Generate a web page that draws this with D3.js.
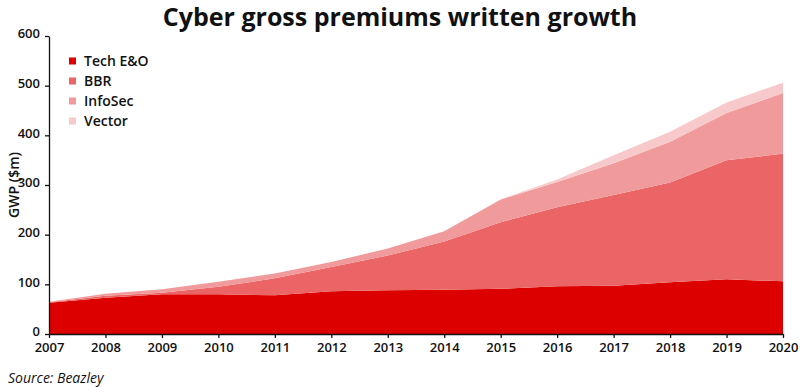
<!DOCTYPE html>
<html>
<head>
<meta charset="utf-8">
<script src="https://cdn.jsdelivr.net/npm/d3@7"></script>
<style>
  body { margin: 0; background: #fff; }
  text { font-family: "Open Sans", sans-serif; fill: #111; }
</style>
</head>
<body>
<svg id="chart" width="800" height="387"></svg>
<script>
// data ($m, per line of business)
const years = [2007, 2008, 2009, 2010, 2011, 2012, 2013, 2014, 2015, 2016, 2017, 2018, 2019, 2020];
const techEO = [63, 73, 80, 80, 78, 86, 88, 89, 91, 96, 97, 104, 110, 106];
const bbr = [1, 4, 3, 15, 34, 49, 70, 97, 134, 159, 183, 201, 240, 257];
const infoSec = [1, 4, 7, 10, 10, 10, 14, 21, 46, 51, 64, 82, 95, 122];
const vector = [0, 0, 0, 0, 0, 0, 0, 0, 0, 5, 16, 20, 21, 21];
const seriesNames = ["Tech E&O", "BBR", "InfoSec", "Vector"];
const yTicks = [0, 100, 200, 300, 400, 500, 600];

const colors = ["#dc0000", "#eb6466", "#f19a9b", "#f8c9ca"];
const svg = d3.select("#chart");
const margin = { top: 36, right: 17, bottom: 53, left: 49 };
const width = 800 - margin.left - margin.right;
const height = 387 - margin.top - margin.bottom;

// build a table the stack generator can use
const table = years.map((y, i) => ({
  year: y,
  "Tech E&O": techEO[i],
  "BBR": bbr[i],
  "InfoSec": infoSec[i],
  "Vector": vector[i]
}));

const stacked = d3.stack().keys(seriesNames)(table);

const x = d3.scaleLinear().domain([2007, 2020]).range([0, width]);
const y = d3.scaleLinear().domain([0, 600]).range([height, 0]);

const g = svg.append("g").attr("transform", `translate(${margin.left},${margin.top})`);

const area = d3.area()
  .x(d => x(d.data.year))
  .y0(d => y(d[0]))
  .y1(d => y(d[1]));

g.selectAll("path.layer")
  .data(stacked)
  .enter()
  .append("path")
  .attr("class", "layer")
  .attr("fill", (d, i) => colors[i])
  .attr("d", area);

// axes
const xAxis = g.append("g")
  .attr("transform", `translate(0,${height})`)
  .call(d3.axisBottom(x).tickValues(years).tickFormat(d3.format("d")).tickSize(4).tickSizeOuter(0));
xAxis.selectAll("text").attr("y", 9).attr("dy", "0.71em")
  .style("font-size", "13px").style("font-weight", "600");

const yAxis = g.append("g")
  .call(d3.axisLeft(y).tickValues(yTicks).tickSize(4).tickSizeOuter(0));
yAxis.selectAll("text").attr("dx", "-2px").attr("dy", "0.15em")
  .style("font-size", "13px").style("font-weight", "600");

g.selectAll(".domain, .tick line").attr("stroke", "#111").attr("stroke-width", 1.3);

// title
svg.append("text")
  .attr("x", 400).attr("y", 26)
  .attr("text-anchor", "middle")
  .style("font-size", "25px").style("font-weight", "700")
  .text("Cyber gross premiums written growth");

// y label
svg.append("text")
  .attr("transform", "translate(14," + (margin.top + height / 2) + ") rotate(-90)")
  .attr("text-anchor", "middle")
  .attr("dy", "0.35em")
  .style("font-size", "14px").style("font-weight", "600")
  .text("GWP ($m)");

// legend
const legend = svg.append("g").attr("transform", "translate(69,61)");
seriesNames.forEach((name, i) => {
  const row = legend.append("g").attr("transform", `translate(0,${i * 20})`);
  row.append("rect").attr("x", 0).attr("y", -3.5).attr("width", 7).attr("height", 7).attr("fill", colors[i]);
  row.append("text").attr("x", 15).attr("dy", "0.35em")
    .style("font-size", "14px").style("font-weight", "600").text(name);
});

// source
svg.append("text")
  .attr("x", 8).attr("y", 383)
  .style("font-size", "14px").style("font-style", "italic")
  .text("Source: Beazley");
</script>
</body>
</html>
